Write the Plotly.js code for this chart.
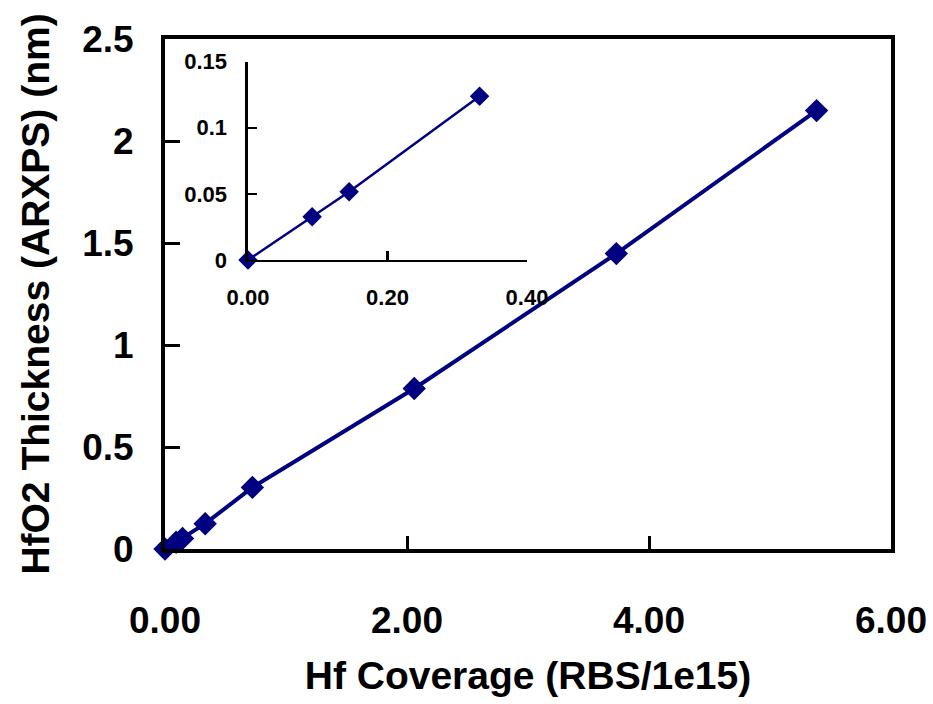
<!DOCTYPE html>
<html>
<head>
<meta charset="utf-8">
<script src="https://cdn.plot.ly/plotly-3.0.1.min.js"></script>
<style>html,body{margin:0;padding:0;background:#fff;}#chart{width:933px;height:704px;}</style>
</head>
<body>
<div id="chart"></div>
<script>
// Data
const coverage  = [0, 0.092, 0.145, 0.332, 0.722, 2.06, 3.73, 5.385];   // Hf coverage (RBS/1e15)
const thickness = [0, 0.033, 0.052, 0.124, 0.302, 0.787, 1.448, 2.149]; // HfO2 thickness (nm)
const insetCoverage  = [0, 0.092, 0.145, 0.332];
const insetThickness = [0, 0.0327, 0.0516, 0.1239];
const mainXTicks = [0, 2, 4, 6];
const mainYTicks = [0, 0.5, 1, 1.5, 2, 2.5];
const mainYLabels = ["0", "0.5", "1", "1.5", "2", "2.5"];
const insetXTicks = [0, 0.2, 0.4];
const insetYTicks = [0, 0.05, 0.1, 0.15];
const insetYLabels = ["0", "0.05", "0.1", "0.15"];

const navy = '#000080';
const FONT = '"Liberation Sans", Arial, sans-serif';

const traces = [
  {
    x: coverage, y: thickness, type: 'scatter', mode: 'lines+markers',
    line: {color: navy, width: 4},
    marker: {symbol: 'diamond', size: 18, color: navy},
    cliponaxis: false, showlegend: false, xaxis: 'x', yaxis: 'y'
  },
  {
    x: insetCoverage, y: insetThickness, type: 'scatter', mode: 'lines+markers',
    line: {color: navy, width: 2.5},
    marker: {symbol: 'diamond', size: 15, color: navy},
    cliponaxis: false, showlegend: false, xaxis: 'x2', yaxis: 'y2'
  }
];

const layout = {
  width: 933, height: 704,
  margin: {l: 165, r: 42, t: 39, b: 155},
  paper_bgcolor: '#fff', plot_bgcolor: 'rgba(0,0,0,0)',
  font: {family: FONT, color: '#000'},
  xaxis: {
    domain: [0, 1], range: [0, 6], tickvals: mainXTicks, tickformat: '.2f',
    showgrid: false, zeroline: false,
    showline: true, linecolor: '#000', linewidth: 4, mirror: true,
    ticks: 'inside', ticklen: 13, tickwidth: 3, tickcolor: '#000',
    tickfont: {family: FONT, size: 37, weight: 'bold', color: '#000'},
    ticklabelstandoff: 36,
    title: {text: 'Hf Coverage (RBS/1e15)', font: {family: FONT, size: 39, weight: 'bold', color: '#000'}, standoff: 22},
    automargin: false, fixedrange: true
  },
  yaxis: {
    domain: [0, 1], range: [0, 2.5], tickvals: mainYTicks, ticktext: mainYLabels,
    showgrid: false, zeroline: false,
    showline: true, linecolor: '#000', linewidth: 4, mirror: true,
    ticks: 'inside', ticklen: 15, tickwidth: 3, tickcolor: '#000',
    tickfont: {family: FONT, size: 37, weight: 'bold', color: '#000'},
    ticklabelstandoff: 20,
    title: {text: 'HfO2 Thickness (ARXPS) (nm)', font: {family: FONT, size: 39, weight: 'bold', color: '#000'}, standoff: 22},
    automargin: false, fixedrange: true
  },
  xaxis2: {
    anchor: 'y2', domain: [0.1143, 0.4986], range: [0, 0.4], tickvals: insetXTicks, tickformat: '.2f',
    showgrid: false, zeroline: false,
    showline: true, linecolor: '#000', linewidth: 2.5, mirror: false,
    ticks: 'inside', ticklen: 9, tickwidth: 2.5, tickcolor: '#000',
    tickfont: {family: FONT, size: 22, weight: 'bold', color: '#000'},
    ticklabelstandoff: 16,
    automargin: false, fixedrange: true
  },
  yaxis2: {
    anchor: 'x2', domain: [0.5667, 0.9555], range: [0, 0.15], tickvals: insetYTicks, ticktext: insetYLabels,
    showgrid: false, zeroline: false,
    showline: true, linecolor: '#000', linewidth: 2.5, mirror: false,
    ticks: 'inside', ticklen: 9, tickwidth: 2.5, tickcolor: '#000',
    tickfont: {family: FONT, size: 22, weight: 'bold', color: '#000'},
    ticklabelstandoff: 14,
    automargin: false, fixedrange: true
  },
  showlegend: false
};

Plotly.newPlot('chart', traces, layout, {displayModeBar: false, staticPlot: true});
</script>
</body>
</html>
